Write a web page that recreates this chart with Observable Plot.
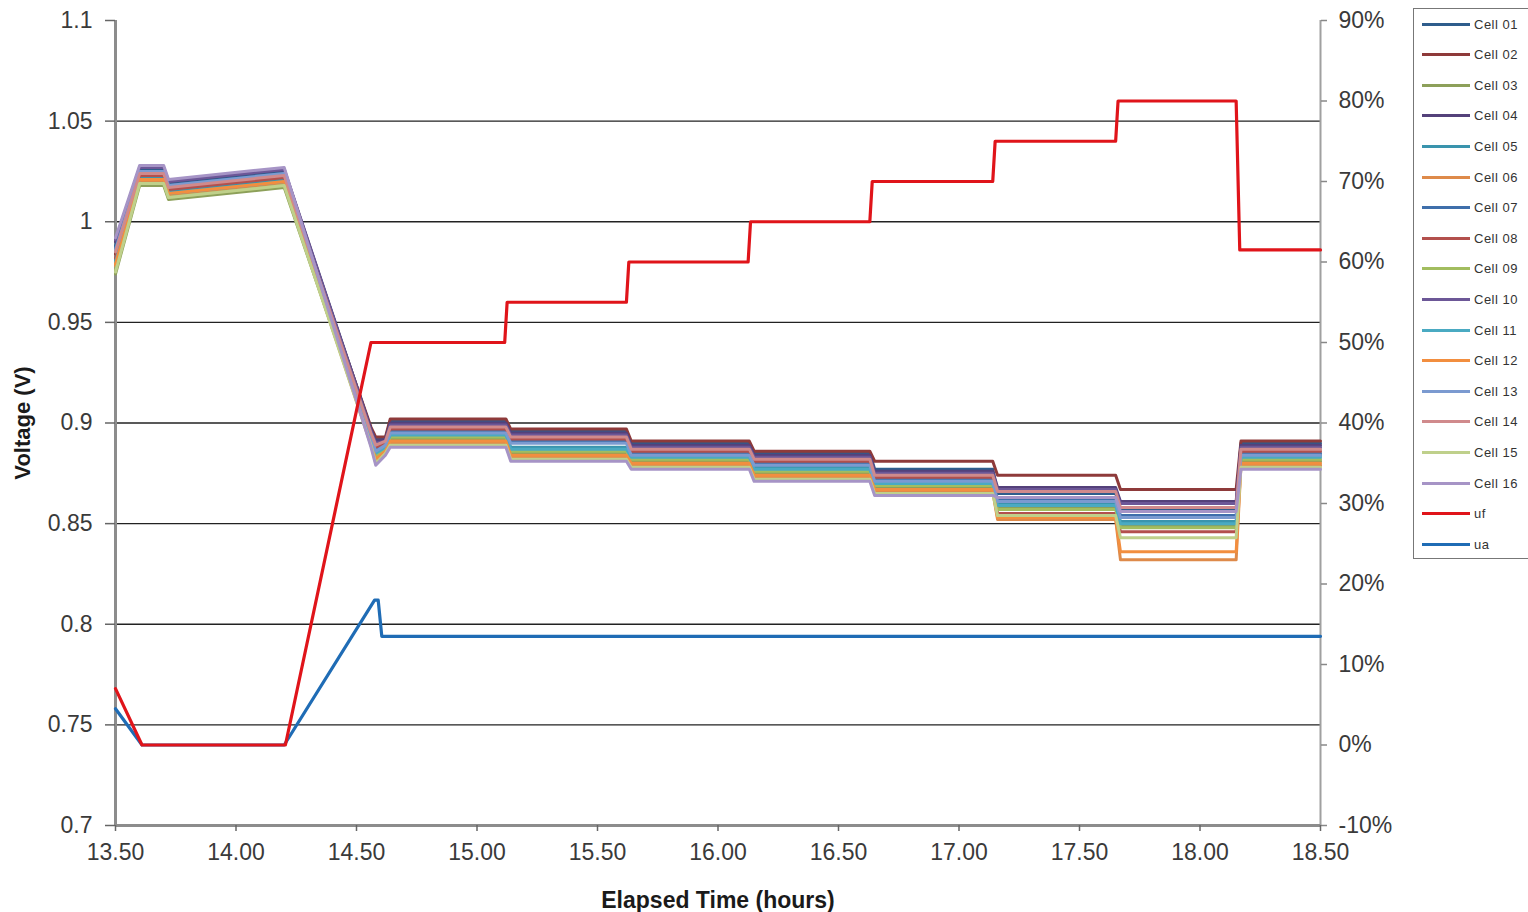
<!DOCTYPE html>
<html><head><meta charset="utf-8">
<script src="https://cdn.jsdelivr.net/npm/d3@7"></script>
<script src="https://cdn.jsdelivr.net/npm/@observablehq/plot@0.6"></script>
<style>
body{margin:0;background:#fff;}
#wrap{position:relative;width:1528px;height:912px;overflow:hidden;font-family:"Liberation Sans",Arial,sans-serif;}
#legend{position:absolute;left:1413px;top:8px;width:140px;height:551px;border:1px solid #777;box-sizing:border-box;background:#fff;}
#legend .row{position:absolute;left:8px;height:16px;display:flex;align-items:center;}
#legend .sw{width:48px;height:3px;}
#legend .lab{margin-left:4px;font-size:13px;letter-spacing:0.5px;color:#333;white-space:nowrap;}
</style></head><body><div id="wrap"></div>
<script>
// ---- data ----
const hourTicks = [13.5,14,14.5,15,15.5,16,16.5,17,17.5,18,18.5];
const voltTicks = [0.7,0.75,0.8,0.85,0.9,0.95,1,1.05,1.1];
const gridVolts = [0.75,0.8,0.85,0.9,0.95,1,1.05];
const pctTicks = [-10,0,10,20,30,40,50,60,70,80,90];

const cellNames = ["Cell 01","Cell 02","Cell 03","Cell 04","Cell 05","Cell 06","Cell 07","Cell 08",
                   "Cell 09","Cell 10","Cell 11","Cell 12","Cell 13","Cell 14","Cell 15","Cell 16"];

const timeKnots = [13.50,13.60,13.70,13.72,14.20,14.56,14.58,14.62,14.64,15.12,15.14,15.62,
                   15.64,16.13,16.15,16.63,16.65,17.14,17.16,17.65,17.67,18.15,18.17,18.50];

const cell01 = [.988,1.026,1.026,1.019,1.025,.897,.892,.892,.901,.901,.896,.896,.890,.890,.885,.885,.877,.877,.865,.865,.857,.857,.890,.890];
const cell02 = [.984,1.023,1.023,1.016,1.022,.898,.893,.893,.902,.902,.897,.897,.891,.891,.886,.886,.881,.881,.874,.874,.867,.867,.891,.891];
const cell03 = [.974,1.018,1.018,1.011,1.017,.891,.883,.886,.892,.892,.885,.885,.881,.881,.875,.875,.868,.868,.858,.858,.849,.849,.881,.881];
const cell04 = [.990,1.027,1.027,1.020,1.026,.897,.891,.892,.900,.900,.895,.895,.889,.889,.884,.884,.876,.876,.868,.868,.861,.861,.889,.889];
const cell05 = [.981,1.022,1.022,1.015,1.021,.893,.886,.888,.895,.895,.888,.888,.884,.884,.878,.878,.871,.871,.860,.860,.851,.851,.884,.884];
const cell06 = [.978,1.020,1.020,1.013,1.019,.889,.881,.885,.890,.890,.883,.883,.879,.879,.873,.873,.866,.866,.852,.852,.832,.832,.879,.879];
const cell07 = [.987,1.025,1.025,1.018,1.024,.894,.887,.889,.896,.896,.891,.891,.885,.885,.880,.880,.872,.872,.862,.862,.854,.854,.885,.885];
const cell08 = [.982,1.023,1.023,1.016,1.022,.895,.888,.890,.897,.897,.892,.892,.886,.886,.881,.881,.873,.873,.855,.855,.846,.846,.886,.886];
const cell09 = [.976,1.019,1.019,1.012,1.018,.891,.884,.887,.893,.893,.886,.886,.882,.882,.876,.876,.869,.869,.857,.857,.848,.848,.882,.882];
const cell10 = [.991,1.027,1.027,1.020,1.026,.896,.890,.891,.899,.899,.894,.894,.888,.888,.883,.883,.875,.875,.867,.867,.860,.860,.888,.888];
const cell11 = [.980,1.021,1.021,1.014,1.020,.892,.885,.888,.894,.894,.887,.887,.883,.883,.877,.877,.870,.870,.859,.859,.850,.850,.883,.883];
const cell12 = [.979,1.021,1.021,1.014,1.020,.890,.882,.886,.891,.891,.884,.884,.880,.880,.874,.874,.867,.867,.853,.853,.836,.836,.880,.880];
const cell13 = [.986,1.025,1.025,1.018,1.024,.893,.886,.889,.895,.895,.890,.890,.884,.884,.879,.879,.871,.871,.861,.861,.853,.853,.884,.884];
const cell14 = [.985,1.024,1.024,1.017,1.023,.895,.889,.891,.898,.898,.893,.893,.887,.887,.882,.882,.874,.874,.866,.866,.858,.858,.887,.887];
const cell15 = [.975,1.019,1.019,1.012,1.018,.889,.880,.885,.889,.889,.882,.882,.878,.878,.872,.872,.865,.865,.854,.854,.843,.843,.878,.878];
const cell16 = [.992,1.028,1.028,1.021,1.027,.888,.879,.884,.888,.888,.881,.881,.877,.877,.871,.871,.864,.864,.863,.863,.856,.856,.877,.877];
const cellValues = [cell01,cell02,cell03,cell04,cell05,cell06,cell07,cell08,cell09,cell10,cell11,cell12,cell13,cell14,cell15,cell16];

// uf and ua are in percent (right axis)
const ufTimes = [13.50,13.61,14.205,14.56,15.115,15.125,15.62,15.63,16.125,16.135,16.63,16.64,17.14,17.15,17.65,17.66,18.15,18.165,18.50];
const ufPct   = [7,0,0,50,50,55,55,60,60,65,65,70,70,75,75,80,80,61.5,61.5];
const uaTimes = [13.50,13.61,14.20,14.575,14.59,14.605,18.50];
const uaPct   = [4.5,0,0,18,18,13.5,13.5];

// ---- styles ----
const cellColors = ["#2f5d8c","#8e3a3a","#8da05a","#54417a","#3a94ad","#de8a4a","#3f6fab","#b3504d",
                    "#a2bd5f","#6c5797","#4aaac2","#f28e3f","#7b9ad0","#d08a8c","#bfd08b","#a694c6"];
const ufColor = "#e0141a", uaColor = "#1f6cb5";

// right axis mapping: -10% at 0.70 V, 90% at 1.10 V
const pctToVolt = p => 0.74 + p * 0.004;

const cellMarks = cellValues.map((vals, i) =>
  Plot.line(vals.map((v, j) => ({t: timeKnots[j], v})), {x: "t", y: "v", stroke: cellColors[i], strokeWidth: 3})
);
const ufData = ufTimes.map((t, i) => ({t, v: pctToVolt(ufPct[i])}));
const uaData = uaTimes.map((t, i) => ({t, v: pctToVolt(uaPct[i])}));

const chart = Plot.plot({
  width: 1528, height: 912,
  marginLeft: 115, marginRight: 208, marginTop: 20, marginBottom: 87,
  style: {fontFamily: "'Liberation Sans', Arial, sans-serif", background: "white", overflow: "visible"},
  x: {domain: [13.5, 18.5]},
  y: {domain: [0.7, 1.1]},
  marks: [
    Plot.ruleY(gridVolts, {stroke: "#222", strokeWidth: 1.4}),
    Plot.ruleX([18.5], {stroke: "#a0a0a0", strokeWidth: 2}),
    Plot.ruleX([13.5], {stroke: "#8c8c8c", strokeWidth: 3}),
    Plot.ruleY([0.7], {stroke: "#8c8c8c", strokeWidth: 3}),
    Plot.axisY({ticks: voltTicks, tickFormat: d => String(+d.toFixed(2)), tickSize: 10, tickPadding: 13,
      fontSize: 23, stroke: "#666", strokeWidth: 1.5, fill: "#3a3a3a", label: null}),
    Plot.axisY({ticks: [], label: "Voltage (V)", labelAnchor: "center", labelArrow: false, labelOffset: 101,
      fontSize: 22, fontWeight: "bold", fill: "#1a1a1a"}),
    Plot.axisY({anchor: "right", ticks: pctTicks.map(pctToVolt),
      tickFormat: v => Math.round((v - 0.74) / 0.004) + "%", tickSize: 6, tickPadding: 12,
      fontSize: 23, stroke: "#888", strokeWidth: 1.5, fill: "#3a3a3a", label: null}),
    Plot.axisX({ticks: hourTicks, tickFormat: d => d.toFixed(2), tickSize: 6, tickPadding: 12,
      fontSize: 23, stroke: "#666", strokeWidth: 1.5, fill: "#3a3a3a", label: null}),
    Plot.axisX({ticks: [], label: "Elapsed Time (hours)", labelAnchor: "center", labelArrow: false, labelOffset: 82,
      fontSize: 23, fontWeight: "bold", fill: "#1a1a1a"}),
    ...cellMarks,
    Plot.line(uaData, {x: "t", y: "v", stroke: uaColor, strokeWidth: 3.2}),
    Plot.line(ufData, {x: "t", y: "v", stroke: ufColor, strokeWidth: 3.2})
  ]
});

const wrap = document.getElementById("wrap");
wrap.appendChild(chart);

// legend
const legNames = [...cellNames, "uf", "ua"];
const legColors = [...cellColors, ufColor, uaColor];
const leg = document.createElement("div");
leg.id = "legend";
legNames.forEach((n, i) => {
  const row = document.createElement("div");
  row.className = "row";
  row.style.top = (15 + i * 30.6 - 8) + "px";
  const sw = document.createElement("div");
  sw.className = "sw"; sw.style.background = legColors[i];
  const lab = document.createElement("span");
  lab.className = "lab"; lab.textContent = n;
  row.appendChild(sw); row.appendChild(lab);
  leg.appendChild(row);
});
wrap.appendChild(leg);
</script>
</body></html>
